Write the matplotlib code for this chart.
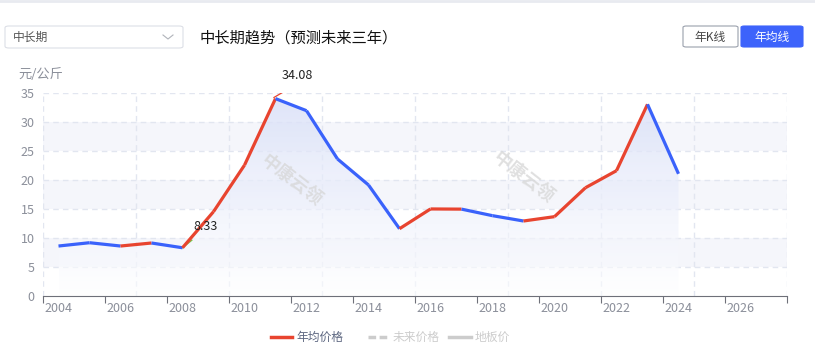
import matplotlib
matplotlib.use("Agg")
import matplotlib.pyplot as plt
import numpy as np
from matplotlib.patches import FancyBboxPatch
from matplotlib.lines import Line2D

plt.rcParams['font.family'] = ['Noto Sans CJK SC', 'DejaVu Sans']

# data
categories = [str(y) for y in range(2004, 2028)]
years = list(range(2004, 2025))
prices = [8.63, 9.2, 8.63, 9.15, 8.33, 14.56, 22.6, 34.08, 32.0, 23.66, 19.17,
          11.62, 15.03, 15.0, 13.87, 12.95, 13.7, 18.7, 21.64, 33.1, 21.1]
# colour of each segment between two years (u = red, d = blue)
segment_trend = ['d', 'd', 'u', 'd', 'u', 'u', 'u', 'd', 'd', 'd', 'd',
                 'u', 'u', 'd', 'd', 'u', 'u', 'u', 'u', 'd']
y_ticks = [0, 5, 10, 15, 20, 25, 30, 35]
legend_items = ['年均价格', '未来价格', '地板价']

RED = '#e8442f'
BLUE = '#3a62fb'
GRAY = '#8b8f9a'
W, H = 815, 354

fig = plt.figure(figsize=(W / 100, H / 100), dpi=100)
ax = fig.add_axes([43 / W, 1 - 296 / H, 744 / W, 202.7 / H])

x = np.arange(len(years))
ax.set_xlim(-0.5, len(categories) - 0.5)
ax.set_ylim(0, 35)

# alternating split areas
for i, lo in enumerate(y_ticks[:-1]):
    if i % 2 == 1:
        ax.axhspan(lo, lo + 5, color='#f5f6fb', zorder=0, lw=0)

# grid
for yt in y_ticks[1:]:
    ax.axhline(yt, color='#e2e6f0', lw=1, ls=(0, (4, 3)), zorder=1)
for xv in np.arange(-0.5, len(categories), 3):
    ax.axvline(xv, color='#e2e6f0', lw=1, ls=(0, (4, 3)), zorder=1)

# gradient area under the line
fill = ax.fill_between(x, prices, 0, color='none', lw=0)
grad = np.linspace(0, 1, 256).reshape(-1, 1)
img = ax.imshow(grad, extent=[x[0], x[-1], 0, 35], origin='lower', aspect='auto',
                cmap=matplotlib.colors.LinearSegmentedColormap.from_list(
                    'g', [(1, 1, 1, 0.6), (0.84, 0.87, 0.97, 0.8)]),
                zorder=2)
img.set_clip_path(fill.get_paths()[0], transform=ax.transData)

# line segments
for i, t in enumerate(segment_trend):
    ax.plot(x[i:i + 2], prices[i:i + 2], color=RED if t == 'u' else BLUE,
            lw=2.3, solid_capstyle='butt', zorder=4)

# markers for min / max
imax = int(np.argmax(prices))
imin = int(np.argmin(prices))
ax.plot([imin, imin + 0.3], [prices[imin], prices[imin] + 1.3], color='#7cc24a', lw=1, zorder=3)
ax.text(imin + 0.35, prices[imin] + 3.0, f'{prices[imin]:.2f}', fontsize=9, color='#222222', zorder=5)
ax.plot([imax - 0.05, imax + 0.3], [prices[imax] + 0.2, prices[imax] + 1.3], color=RED, lw=0.9, zorder=3)
ax.text(imax + 0.2, prices[imax] + 3.4, f'{prices[imax]:.2f}', fontsize=9, color='#222222', zorder=5)

# watermark
for wx, wy in [(7.5, 20), (15.0, 20.5)]:
    ax.text(wx, wy, '中康云领', fontsize=13, color='#d6d6d6', alpha=0.75,
            rotation=-38, ha='center', va='center', zorder=3, fontweight='bold')

# axes
for s in ['top', 'right', 'left']:
    ax.spines[s].set_visible(False)
ax.spines['bottom'].set_color('#6e7079')
ax.set_yticks(y_ticks)
ax.tick_params(axis='y', length=0, labelsize=9, labelcolor=GRAY, pad=6)
ax.set_xticks(np.arange(-0.5, len(categories) + 0.1, 2))
ax.set_xticklabels([])
ax.set_xticks(np.arange(0, len(categories), 2), minor=True)
ax.set_xticklabels(categories[::2], minor=True)
ax.tick_params(axis='x', which='major', length=5, color='#6e7079')
ax.tick_params(axis='x', which='minor', length=0, labelsize=9, labelcolor=GRAY, pad=4)

# header widgets
fig.add_artist(Line2D([0, 1], [1 - 1 / H, 1 - 1 / H], color='#e8eaf0', lw=2))
fig.add_artist(FancyBboxPatch((5 / W, 1 - 48 / H), 178 / W, 22 / H,
                              boxstyle='round,pad=0,rounding_size=0.005',
                              fc='white', ec='#dcdfe6', lw=0.8))
fig.text(13 / W, 1 - 37 / H, '中长期', fontsize=8.5, color='#555555', va='center')
fig.add_artist(Line2D([163 / W, 168 / W, 173 / W], [1 - 35 / H, 1 - 39 / H, 1 - 35 / H],
                      color='#b0b3ba', lw=0.8))
fig.text(200 / W, 1 - 38 / H, '中长期趋势（预测未来三年）', fontsize=11, color='#111111', va='center')

fig.add_artist(FancyBboxPatch((683 / W, 1 - 47 / H), 55 / W, 21 / H,
                              boxstyle='round,pad=0,rounding_size=0.004',
                              fc='white', ec='#9aa0ac', lw=0.8))
fig.text(710.5 / W, 1 - 37 / H, '年K线', fontsize=8.5, color='#444444', ha='center', va='center')
fig.add_artist(FancyBboxPatch((741 / W, 1 - 47 / H), 62 / W, 21 / H,
                              boxstyle='round,pad=0,rounding_size=0.004',
                              fc='#3d63fb', ec='#3d63fb', lw=0.8))
fig.text(772 / W, 1 - 37 / H, '年均线', fontsize=8.5, color='white', ha='center', va='center')

fig.text(18 / W, 1 - 75 / H, '元/公斤', fontsize=9.5, color=GRAY, va='center')

# legend
ly = 1 - 337 / H
fig.add_artist(Line2D([271 / W, 292 / W], [ly, ly], color=RED, lw=2.5))
fig.text(296 / W, ly, legend_items[0], fontsize=8.5, color='#5c6680', va='center')
fig.add_artist(Line2D([368 / W, 389 / W], [ly, ly], color='#cccccc', lw=2.5, ls=(0, (2.2, 1))))
fig.text(393 / W, ly, legend_items[1], fontsize=8.5, color='#cccccc', va='center')
fig.add_artist(Line2D([449 / W, 471 / W], [ly, ly], color='#cccccc', lw=2.5))
fig.text(475 / W, ly, legend_items[2], fontsize=8.5, color='#cccccc', va='center')

fig.savefig('out.png', dpi=100)
